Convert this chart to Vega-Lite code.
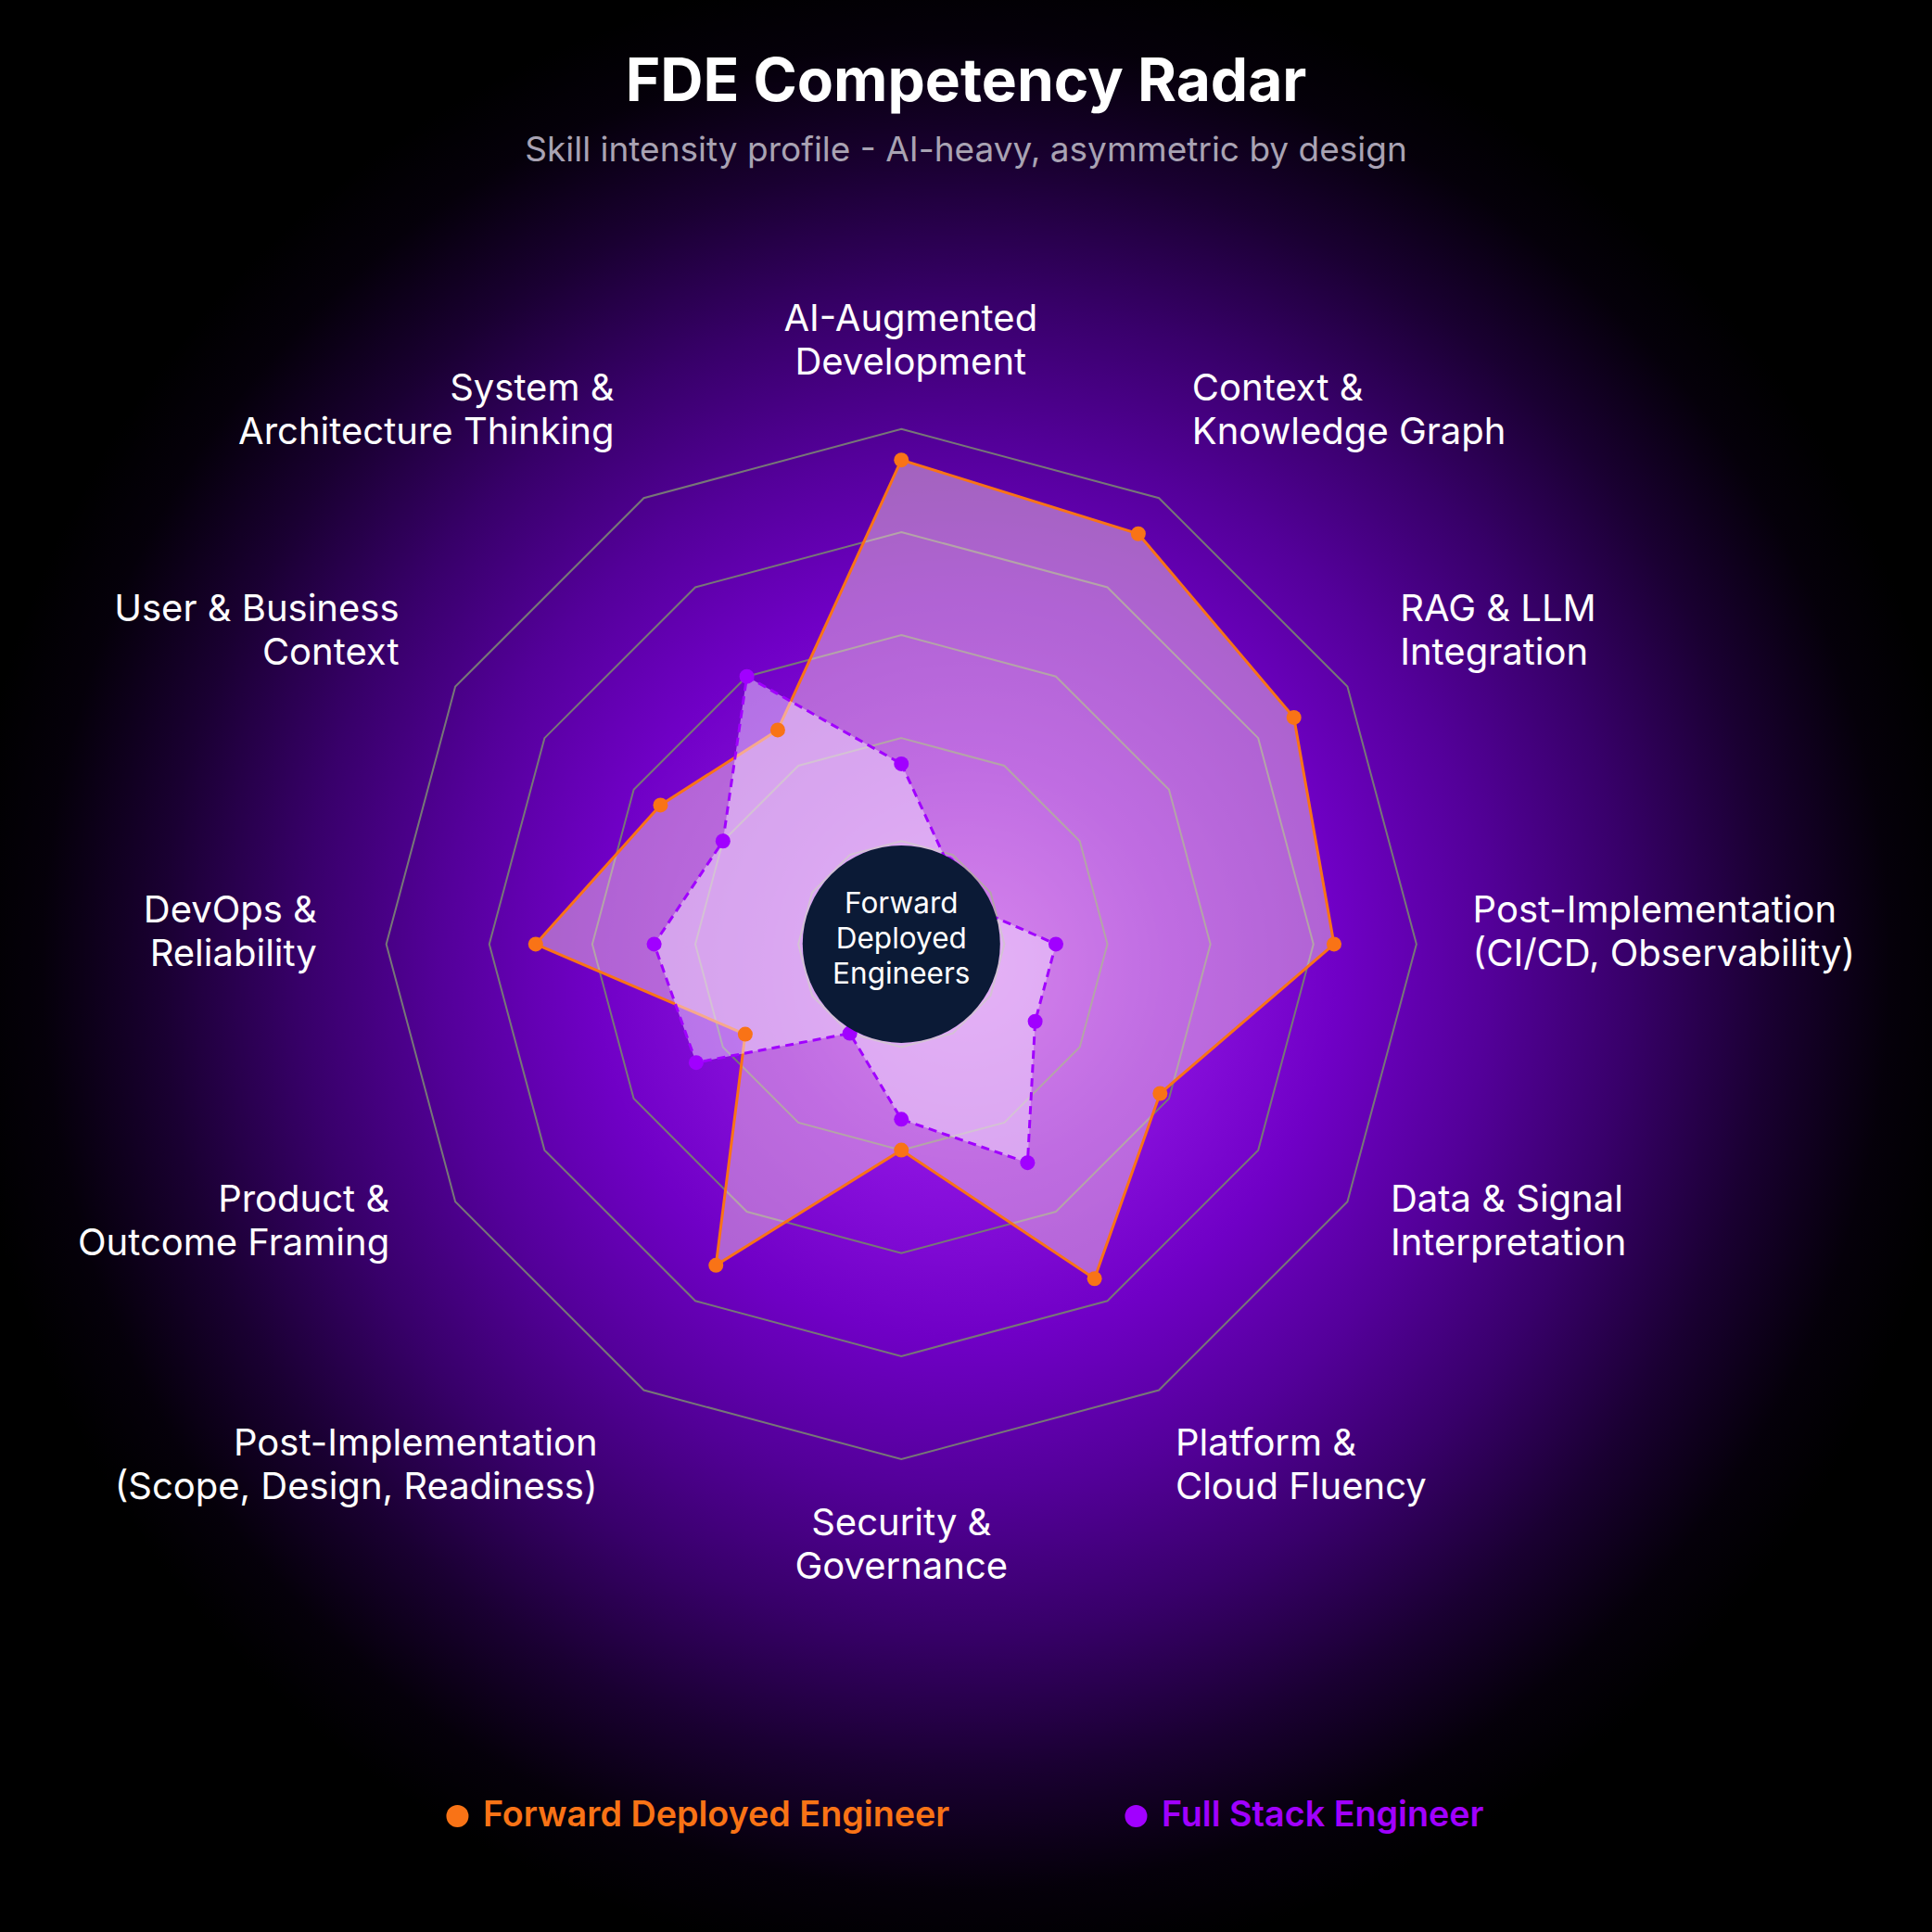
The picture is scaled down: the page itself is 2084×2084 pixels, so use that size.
{
  "$schema": "https://vega.github.io/schema/vega-lite/v6.json",
  "width": 2084,
  "height": 2084,
  "autosize": {"type": "none"},
  "padding": 0,
  "background": "#000000",
  "title": {
    "text": "FDE Competency Radar",
    "subtitle": "Skill intensity profile - AI-heavy, asymmetric by design",
    "anchor": "middle",
    "frame": "group",
    "offset": -181.1,
    "font": "Inter",
    "fontSize": 64,
    "fontWeight": 700,
    "color": "#ffffff",
    "subtitleFont": "Inter",
    "subtitleFontSize": 37,
    "subtitleFontWeight": 400,
    "subtitleColor": "#a9a3b3",
    "subtitlePadding": 23.4
  },
  "config": {
    "view": {
      "stroke": null,
      "fill": {
        "gradient": "radial",
        "x1": 0.5, "y1": 0.5, "r1": 0,
        "x2": 0.5, "y2": 0.5, "r2": 0.52,
        "stops": [
          {"offset": 0, "color": "#b53cf5"},
          {"offset": 0.2, "color": "#8c12e0"},
          {"offset": 0.37, "color": "#7000c6"},
          {"offset": 0.52, "color": "#54009a"},
          {"offset": 0.66, "color": "#38006a"},
          {"offset": 0.8, "color": "#1a0032"},
          {"offset": 0.92, "color": "#05000a"},
          {"offset": 1, "color": "#000000"}
        ]
      }
    }
  },
  "datasets": {
    "axes": [
      {"ax": 0, "skill": "AI-Augmented\nDevelopment"},
      {"ax": 1, "skill": "Context &\nKnowledge Graph"},
      {"ax": 2, "skill": "RAG & LLM\nIntegration"},
      {"ax": 3, "skill": "Post-Implementation\n(CI/CD, Observability)"},
      {"ax": 4, "skill": "Data & Signal\nInterpretation"},
      {"ax": 5, "skill": "Platform &\nCloud Fluency"},
      {"ax": 6, "skill": "Security &\nGovernance"},
      {"ax": 7, "skill": "Post-Implementation\n(Scope, Design, Readiness)"},
      {"ax": 8, "skill": "Product &\nOutcome Framing"},
      {"ax": 9, "skill": "DevOps &\nReliability"},
      {"ax": 10, "skill": "User & Business\nContext"},
      {"ax": 11, "skill": "System &\nArchitecture Thinking"}
    ],
    "scores": [
      {"ax": 0, "series": "Forward Deployed Engineer", "value": 94},
      {"ax": 1, "series": "Forward Deployed Engineer", "value": 92},
      {"ax": 2, "series": "Forward Deployed Engineer", "value": 88},
      {"ax": 3, "series": "Forward Deployed Engineer", "value": 84},
      {"ax": 4, "series": "Forward Deployed Engineer", "value": 58},
      {"ax": 5, "series": "Forward Deployed Engineer", "value": 75},
      {"ax": 6, "series": "Forward Deployed Engineer", "value": 40},
      {"ax": 7, "series": "Forward Deployed Engineer", "value": 72},
      {"ax": 8, "series": "Forward Deployed Engineer", "value": 35},
      {"ax": 9, "series": "Forward Deployed Engineer", "value": 71},
      {"ax": 10, "series": "Forward Deployed Engineer", "value": 54},
      {"ax": 11, "series": "Forward Deployed Engineer", "value": 48},
      {"ax": 0, "series": "Full Stack Engineer", "value": 35},
      {"ax": 1, "series": "Full Stack Engineer", "value": 18},
      {"ax": 2, "series": "Full Stack Engineer", "value": 15},
      {"ax": 3, "series": "Full Stack Engineer", "value": 30},
      {"ax": 4, "series": "Full Stack Engineer", "value": 30},
      {"ax": 5, "series": "Full Stack Engineer", "value": 49},
      {"ax": 6, "series": "Full Stack Engineer", "value": 34},
      {"ax": 7, "series": "Full Stack Engineer", "value": 20},
      {"ax": 8, "series": "Full Stack Engineer", "value": 46},
      {"ax": 9, "series": "Full Stack Engineer", "value": 48},
      {"ax": 10, "series": "Full Stack Engineer", "value": 40},
      {"ax": 11, "series": "Full Stack Engineer", "value": 60}
    ],
    "rings": [
      {"ring": 20, "axl": [0, 1, 2, 3, 4, 5, 6, 7, 8, 9, 10, 11]},
      {"ring": 40, "axl": [0, 1, 2, 3, 4, 5, 6, 7, 8, 9, 10, 11]},
      {"ring": 60, "axl": [0, 1, 2, 3, 4, 5, 6, 7, 8, 9, 10, 11]},
      {"ring": 80, "axl": [0, 1, 2, 3, 4, 5, 6, 7, 8, 9, 10, 11]},
      {"ring": 100, "axl": [0, 1, 2, 3, 4, 5, 6, 7, 8, 9, 10, 11]}
    ],
    "hub": [
      {"label": "Forward\nDeployed\nEngineers", "value": 0}
    ]
  },
  "encoding": {
    "x": {"field": "px", "type": "quantitative", "scale": {"domain": [-175, 200.1], "nice": false, "zero": false}, "axis": null},
    "y": {"field": "py", "type": "quantitative", "scale": {"domain": [-191.8, 183.3], "nice": false, "zero": false}, "axis": null}
  },
  "layer": [
    {
      "data": {"name": "rings"},
      "transform": [
        {"flatten": ["axl"], "as": ["ax"]},
        {"calculate": "datum.ax * PI / 6", "as": "t"},
        {"calculate": "datum.ring * sin(datum.t)", "as": "px"},
        {"calculate": "datum.ring * cos(datum.t)", "as": "py"}
      ],
      "mark": {"type": "line", "interpolate": "linear-closed", "stroke": "#777777", "strokeWidth": 2},
      "encoding": {
        "detail": {"field": "ring", "type": "nominal"},
        "order": {"field": "ax", "type": "quantitative"}
      }
    },
    {
      "data": {"name": "axes"},
      "transform": [
        {"calculate": "datum.ax * PI / 6", "as": "t"},
        {"calculate": "102.6 * sin(datum.t)", "as": "ex"},
        {"calculate": "102.6 * cos(datum.t)", "as": "ey"}
      ],
      "mark": {"type": "rule", "stroke": "#777777", "strokeWidth": 2},
      "encoding": {
        "x": {"datum": 0, "type": "quantitative"},
        "y": {"datum": 0, "type": "quantitative"},
        "x2": {"field": "ex"},
        "y2": {"field": "ey"}
      }
    },
    {
      "data": {"name": "scores"},
      "transform": [
        {"filter": "datum.series == 'Forward Deployed Engineer'"},
        {"calculate": "datum.ax * PI / 6", "as": "t"},
        {"calculate": "datum.value * sin(datum.t)", "as": "px"},
        {"calculate": "datum.value * cos(datum.t)", "as": "py"}
      ],
      "mark": {"type": "line", "interpolate": "linear-closed", "fill": "#ffdbe4", "fillOpacity": 0.45, "stroke": "#F97316", "strokeWidth": 3},
      "encoding": {
        "order": {"field": "ax", "type": "quantitative"}
      }
    },
    {
      "data": {"name": "scores"},
      "transform": [
        {"filter": "datum.series == 'Full Stack Engineer'"},
        {"calculate": "datum.ax * PI / 6", "as": "t"},
        {"calculate": "datum.value * sin(datum.t)", "as": "px"},
        {"calculate": "datum.value * cos(datum.t)", "as": "py"}
      ],
      "mark": {"type": "line", "interpolate": "linear-closed", "fill": "#f3e0ff", "fillOpacity": 0.5, "stroke": "#A100FF", "strokeWidth": 3, "strokeDash": [9, 6]},
      "encoding": {
        "order": {"field": "ax", "type": "quantitative"}
      }
    },
    {
      "data": {"name": "scores"},
      "transform": [
        {"calculate": "datum.ax * PI / 6", "as": "t"},
        {"calculate": "datum.value * sin(datum.t)", "as": "px"},
        {"calculate": "datum.value * cos(datum.t)", "as": "py"}
      ],
      "mark": {"type": "point", "filled": true, "size": 256, "opacity": 1},
      "encoding": {
        "color": {
          "field": "series",
          "type": "nominal",
          "scale": {"domain": ["Forward Deployed Engineer", "Full Stack Engineer"], "range": ["#F97316", "#A100FF"]},
          "legend": {
            "orient": "none",
            "legendX": 474.6,
            "legendY": 1940,
            "direction": "horizontal",
            "title": null,
            "symbolType": "circle",
            "symbolSize": 576,
            "symbolStrokeWidth": 0,
            "labelFont": "Inter",
            "labelFontSize": 37.7,
            "labelFontWeight": 600,
            "labelOffset": 8.6,
            "columnPadding": 182,
            "padding": 0,
            "labelLimit": 0,
            "symbolOpacity": 1,
            "encode": {
              "labels": {"update": {"fill": {"signal": "datum.value === 'Forward Deployed Engineer' ? '#F97316' : '#A100FF'"}}}
            }
          }
        }
      }
    },
    {
      "data": {"name": "hub"},
      "mark": {"type": "point", "filled": true, "size": 45369, "color": "#0b1a36", "opacity": 1},
      "encoding": {
        "x": {"field": "value", "type": "quantitative"},
        "y": {"field": "value", "type": "quantitative"}
      }
    },
    {
      "data": {"name": "hub"},
      "mark": {"type": "text", "lineBreak": "\n", "font": "Inter", "fontSize": 31.5, "lineHeight": 38, "color": "#ffffff", "align": "center", "baseline": "middle", "dy": -42.6},
      "encoding": {
        "x": {"field": "value", "type": "quantitative"},
        "y": {"field": "value", "type": "quantitative"},
        "text": {"field": "label"}
      }
    },
    {
      "data": {"name": "axes"},
      "transform": [
        {"filter": "datum.ax == 0"},
        {"calculate": "0", "as": "px"},
        {"calculate": "117.6", "as": "py"}
      ],
      "mark": {"type": "text", "lineBreak": "\n", "font": "Inter", "fontSize": 40, "lineHeight": 47, "color": "#ffffff", "align": "center", "baseline": "bottom", "dx": 10},
      "encoding": {"text": {"field": "skill"}}
    },
    {
      "data": {"name": "axes"},
      "transform": [
        {"filter": "datum.ax == 6"},
        {"calculate": "0", "as": "px"},
        {"calculate": "-109", "as": "py"}
      ],
      "mark": {"type": "text", "lineBreak": "\n", "font": "Inter", "fontSize": 40, "lineHeight": 47, "color": "#ffffff", "align": "center", "baseline": "top"},
      "encoding": {"text": {"field": "skill"}}
    },
    {
      "data": {"name": "axes"},
      "transform": [
        {"filter": "datum.ax > 0 && datum.ax < 6"},
        {"calculate": "datum.ax * PI / 6", "as": "t"},
        {"calculate": "112.2 * sin(datum.t) - 1.27 + 1.86 * cos(datum.t)", "as": "px"},
        {"calculate": "cos(datum.t) > -0.01 ? 117 * cos(datum.t) : 8.66 + 129.4 * cos(datum.t)", "as": "py"}
      ],
      "mark": {"type": "text", "lineBreak": "\n", "font": "Inter", "fontSize": 40, "lineHeight": 47, "color": "#ffffff", "align": "left", "baseline": "middle", "dy": -35},
      "encoding": {"text": {"field": "skill"}}
    },
    {
      "data": {"name": "axes"},
      "transform": [
        {"filter": "datum.ax > 6"},
        {"calculate": "datum.ax * PI / 6", "as": "t"},
        {"calculate": "112.2 * sin(datum.t) - 1.27 + 1.86 * cos(datum.t)", "as": "px"},
        {"calculate": "cos(datum.t) > -0.01 ? 117 * cos(datum.t) : 8.66 + 129.4 * cos(datum.t)", "as": "py"}
      ],
      "mark": {"type": "text", "lineBreak": "\n", "font": "Inter", "fontSize": 40, "lineHeight": 47, "color": "#ffffff", "align": "right", "baseline": "middle", "dy": -35},
      "encoding": {"text": {"field": "skill"}}
    }
  ]
}
